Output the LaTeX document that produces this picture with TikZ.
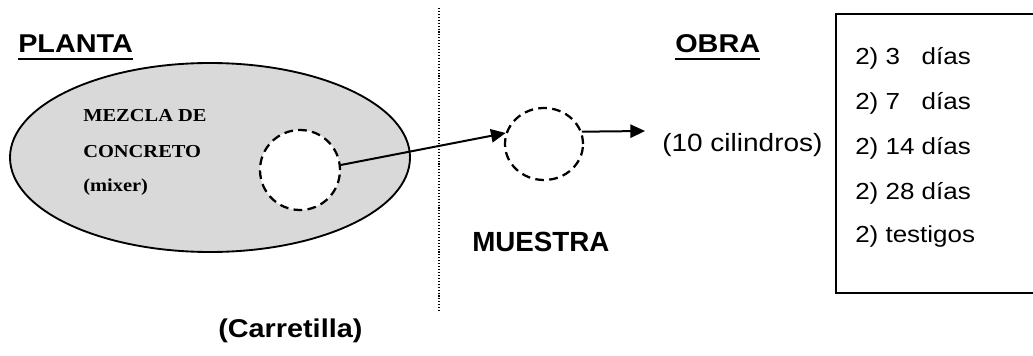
\documentclass[tikz,border=0pt]{standalone}
\usepackage{fontspec}
\setmainfont[FakeStretch=1.12]{Liberation Sans}
\newfontfamily\plainsans{Liberation Sans}
\newfontfamily\timesf[FakeStretch=1.12]{Liberation Serif}
\usetikzlibrary{shapes.geometric,arrows.meta}
\begin{document}
\begin{tikzpicture}[x=0.75pt,y=-0.75pt,
  txt/.style={inner sep=0pt,anchor=base west},
  head/.style={txt,font=\fontsize{19.3}{23}\selectfont\bfseries},
  reg/.style={txt,font=\fontsize{18.75}{23}\selectfont},
  boxt/.style={txt,font=\fontsize{17.4}{21}\selectfont},
  tms/.style={txt,font=\timesf\bfseries\fontsize{13.7}{16}\selectfont},
  uline/.style={line width=1.8pt},
  dashc/.style={draw,ellipse,fill=white,line width=1.7pt,dash pattern=on 6.5pt off 4pt,inner sep=0pt},
  arr/.style={line width=1.5pt,-{Triangle[length=11pt,width=10pt]}}]
\useasboundingbox (0,0) rectangle (1033,356);
% headings
\node[head] (planta) at (18,53) {PLANTA};
\draw[uline] ([yshift=-4.6pt]planta.base west) -- ([yshift=-4.6pt]planta.base east);
\node[head] (obra) at (675,53) {OBRA};
\draw[uline] ([yshift=-4.6pt]obra.base west) -- ([yshift=-4.6pt]obra.base east);
% divider
\coordinate (dt) at (439,8);
\coordinate (db) at (439,313);
\draw[line width=1pt,dash pattern=on 0.8pt off 1.4pt] (dt) -- (db);
% plant ellipse
\node[draw,ellipse,fill=black!15,line width=1.4pt,minimum width=300pt,minimum height=141.75pt,inner sep=0pt] (mix) at (210,157.5) {};
\node[tms] (m1) at (83,122) {MEZCLA DE};
\node[tms] (m2) at (83,158) {CONCRETO};
\node[tms] (m3) at (83,192) {(mixer)};
% sample circles
\node[dashc,minimum width=60pt,minimum height=60pt] (c1) at (300,170) {};
\node[dashc,minimum width=58.5pt,minimum height=54pt] (c2) at (544,144) {};
\draw[arr] (c1.7) -- (c2.164);
\coordinate (a2) at (645,131);
\draw[arr] (c2.18) -- (a2);
\node[reg] (cil) at (662,152) {(10 cilindros)};
\node[txt,font=\plainsans\fontsize{20.8}{24}\selectfont\bfseries] (muestra) at (472,252) {MUESTRA};
\node[head] (carr) at (218,338) {(Carretilla)};
% box
\coordinate (bt) at (1034,14);
\coordinate (btl) at (836,14);
\coordinate (bbl) at (836,293);
\coordinate (bb) at (1034,293);
\draw[line width=1.4pt] (bt) -- (btl) -- (bbl) -- (bb);
\node[boxt] (d1) at (855,65) {2) 3\hphantom{4} días};
\node[boxt] (d2) at (855,110) {2) 7\hphantom{4} días};
\node[boxt] (d3) at (855,155) {2) 14 días};
\node[boxt] (d4) at (855,200) {2) 28 días};
\node[boxt] (d5) at (855,243) {2) testigos};
\end{tikzpicture}
\end{document}
